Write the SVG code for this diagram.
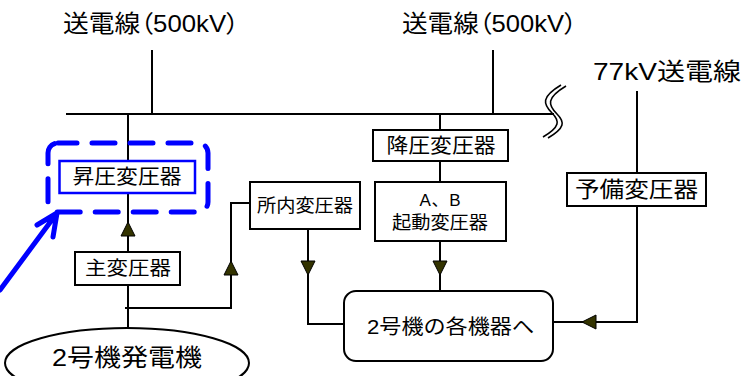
<svg xmlns="http://www.w3.org/2000/svg" width="747" height="376" viewBox="0 0 747 376">
<defs>
<style>
text { font-family: "Liberation Sans", "Noto Sans CJK JP", sans-serif; fill: #000; }
.palt { font-feature-settings: "palt" 1; }
.box { fill: #fff; stroke: #000; stroke-width: 2; }
.line { fill: none; stroke: #000; stroke-width: 2; }
.thin { fill: none; stroke: #000; stroke-width: 1.6; }
.arrow { fill: #333300; stroke: #000; stroke-width: 1; }
.blue { fill: none; stroke: #0000ff; stroke-linecap: round; stroke-linejoin: round; }
</style>
<path id="tri" d="M0,0 L7,14 L-7,14 Z"/>
</defs>
<rect width="747" height="376" fill="#fff"/>

<g id="connectors">
  <line class="line" x1="66" y1="114" x2="554" y2="114"/>
  <path class="thin" d="M561,85 C541,97 543,104 552,113 C560,121 560,127 543,137"/>
  <path class="thin" d="M566,86 C546,98 548,105 557,114 C565,122 565,128 548,138"/>
  <line class="line" x1="152" y1="50" x2="152" y2="114"/>
  <line class="line" x1="493" y1="50" x2="493" y2="114"/>
  <line class="line" x1="637" y1="91" x2="637" y2="173"/>
  <line class="line" x1="128" y1="114" x2="128" y2="161"/>
  <line class="line" x1="128" y1="193" x2="128" y2="252"/>
  <line class="line" x1="128" y1="285" x2="128" y2="328"/>
  <polyline class="line" points="125,308 231,308 231,203 250,203"/>
  <polyline class="line" points="308,229 308,324 344,324"/>
  <line class="line" x1="440" y1="114" x2="440" y2="130"/>
  <line class="line" x1="440" y1="161" x2="440" y2="182"/>
  <line class="line" x1="440" y1="241" x2="440" y2="291"/>
  <polyline class="line" points="637,206 637,322 553,322"/>
  <use href="#tri" class="arrow" transform="translate(128,222)"/>
  <use href="#tri" class="arrow" transform="translate(231,261)"/>
  <use href="#tri" class="arrow" transform="translate(308,275) rotate(180)"/>
  <use href="#tri" class="arrow" transform="translate(440,275) rotate(180)"/>
  <use href="#tri" class="arrow" transform="translate(582,322) rotate(-90)"/>
</g>

<g id="line500kV-1">
  <text class="palt" x="63" y="32" font-size="24" textLength="176" lengthAdjust="spacingAndGlyphs">送電線（500kV）</text>
</g>
<g id="line500kV-2">
  <text class="palt" x="402" y="32" font-size="24" textLength="175" lengthAdjust="spacingAndGlyphs">送電線（500kV）</text>
</g>
<g id="line77kV">
  <text x="593" y="80" font-size="24" textLength="148" lengthAdjust="spacingAndGlyphs">77kV送電線</text>
</g>

<g id="step-up-highlight">
  <rect class="blue" x="48" y="143" width="160" height="69" rx="10" stroke-width="5" stroke-dasharray="23 15" stroke-dashoffset="4" stroke-linecap="butt"/>
  <path class="blue" stroke-width="5" d="M0,290 L57,213 M37,225 L57,213 L53,237"/>
</g>

<g id="step-up-transformer">
  <rect x="59.5" y="161" width="135.5" height="32" fill="#fff" stroke="#0000ff" stroke-width="2.5"/>
  <text x="127" y="184" font-size="20" text-anchor="middle" textLength="109" lengthAdjust="spacingAndGlyphs">昇圧変圧器</text>
</g>

<g id="main-transformer">
  <rect class="box" x="75" y="252" width="105" height="33"/>
  <text x="128" y="275" font-size="19" text-anchor="middle" textLength="86" lengthAdjust="spacingAndGlyphs">主変圧器</text>
</g>

<g id="generator">
  <ellipse cx="127" cy="363" rx="122" ry="35" fill="#fff" stroke="#000" stroke-width="2"/>
  <text x="127" y="366" font-size="24" text-anchor="middle" textLength="150" lengthAdjust="spacingAndGlyphs">2号機発電機</text>
</g>

<g id="house-transformer">
  <rect class="box" x="250" y="182" width="110" height="47"/>
  <text x="305" y="212" font-size="18" text-anchor="middle" textLength="96" lengthAdjust="spacingAndGlyphs">所内変圧器</text>
</g>

<g id="step-down-transformer">
  <rect class="box" x="373" y="130" width="135" height="31"/>
  <text x="441" y="153" font-size="20" text-anchor="middle" textLength="109" lengthAdjust="spacingAndGlyphs">降圧変圧器</text>
</g>

<g id="startup-transformer">
  <rect class="box" x="375" y="182" width="131" height="59"/>
  <text x="440" y="206" font-size="17" text-anchor="middle" textLength="41" lengthAdjust="spacing">A、B</text>
  <text x="440" y="229" font-size="18" text-anchor="middle" textLength="96" lengthAdjust="spacingAndGlyphs">起動変圧器</text>
</g>

<g id="standby-transformer">
  <rect class="box" x="567" y="173" width="139" height="33"/>
  <text x="636.5" y="197" font-size="22" text-anchor="middle" textLength="123" lengthAdjust="spacingAndGlyphs">予備変圧器</text>
</g>

<g id="unit2-equipment">
  <rect class="box" x="344" y="291" width="209" height="70" rx="12"/>
  <text x="450.5" y="334" font-size="20" text-anchor="middle" textLength="167" lengthAdjust="spacingAndGlyphs">2号機の各機器へ</text>
</g>
</svg>
